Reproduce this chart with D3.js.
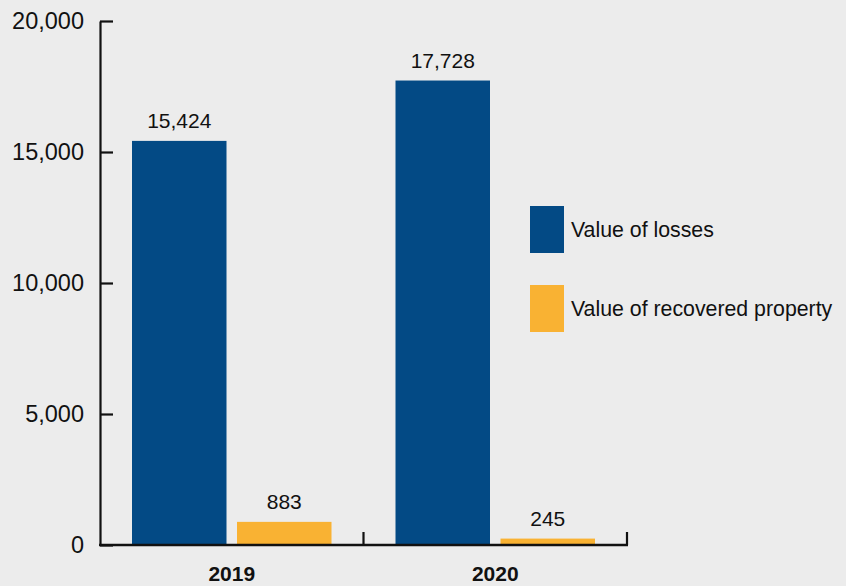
<!DOCTYPE html>
<html>
<head>
<meta charset="utf-8">
<script src="https://cdn.jsdelivr.net/npm/d3@7"></script>
<style>
  html, body { margin: 0; padding: 0; background: #ececec; }
  svg { display: block; font-family: "Liberation Sans", Arial, sans-serif; }
</style>
</head>
<body>
<svg id="chart" width="846" height="586"></svg>
<script>
// Years on the x axis
const years = ["2019", "2020"];
// Series names and values
const seriesNames = ["Value of losses", "Value of recovered property"];
const losses = [15424, 17728];
const recovered = [883, 245];
// Y axis ticks
const yTicks = [0, 5000, 10000, 15000, 20000];

const colors = ["#034a85", "#f9b233"];
const series = [losses, recovered];

const svg = d3.select("#chart");
const margin = { left: 100, right: 219, top: 21, bottom: 41 };
const W = 846, H = 586;

const x = d3.scaleBand().domain(years)
  .range([margin.left, W - margin.right]).paddingInner(0).paddingOuter(0);
const inner = d3.scaleBand().domain(d3.range(seriesNames.length))
  .range([32, x.bandwidth() - 32]).paddingInner(0.1).paddingOuter(0);
const y = d3.scaleLinear().domain([0, 20000]).range([H - margin.bottom, margin.top]);

const fmt = d3.format(",");

// Bars
const groups = svg.selectAll("g.year").data(years).join("g")
  .attr("class", "year")
  .attr("transform", d => `translate(${x(d)},0)`);

groups.selectAll("rect").data((d, i) => series.map((s, k) => ({ k, v: s[i] })))
  .join("rect")
  .attr("x", d => inner(d.k))
  .attr("width", inner.bandwidth())
  .attr("y", d => y(d.v))
  .attr("height", d => y(0) - y(d.v))
  .attr("fill", d => colors[d.k]);

groups.selectAll("text.val").data((d, i) => series.map((s, k) => ({ k, v: s[i] })))
  .join("text")
  .attr("class", "val")
  .attr("x", d => inner(d.k) + inner.bandwidth() / 2)
  .attr("y", d => y(d.v) - 13)
  .attr("text-anchor", "middle")
  .attr("font-size", 21)
  .attr("fill", "#111")
  .text(d => fmt(d.v));

// Y axis
const yAxis = d3.axisLeft(y).tickValues(yTicks).tickFormat(fmt)
  .tickSizeInner(-13).tickSizeOuter(0).tickPadding(16);
const gy = svg.append("g").attr("transform", `translate(${margin.left},0)`).call(yAxis);
gy.select(".domain").attr("stroke", "#111").attr("stroke-width", 2.2);
gy.selectAll(".tick line").attr("stroke", "#111").attr("stroke-width", 2.2);
gy.selectAll(".tick text").attr("font-size", 23.5).attr("fill", "#111")
  .attr("font-family", "Liberation Sans, Arial, sans-serif");

// X axis baseline with boundary ticks between years
const gx = svg.append("g").attr("transform", `translate(0,${y(0)})`);
gx.append("line")
  .attr("x1", margin.left - 1).attr("x2", W - margin.right + 1)
  .attr("stroke", "#111").attr("stroke-width", 2.4);
gx.selectAll("line.sep").data(years).join("line")
  .attr("class", "sep")
  .attr("x1", d => x(d) + x.bandwidth()).attr("x2", d => x(d) + x.bandwidth())
  .attr("y1", 0).attr("y2", -13)
  .attr("stroke", "#111").attr("stroke-width", 2.2);
gx.selectAll("text").data(years).join("text")
  .attr("x", d => x(d) + x.bandwidth() / 2)
  .attr("y", 36)
  .attr("text-anchor", "middle")
  .attr("font-size", 21)
  .attr("font-weight", "bold")
  .attr("fill", "#111")
  .text(d => d);

// Legend
const legend = svg.append("g").attr("transform", "translate(530,206)");
const li = legend.selectAll("g").data(seriesNames).join("g")
  .attr("transform", (d, i) => `translate(0,${i * 79})`);
li.append("rect").attr("width", 34).attr("height", 47)
  .attr("fill", (d, i) => colors[i]);
li.append("text").attr("x", 41).attr("y", 23.5).attr("dy", "0.35em")
  .attr("font-size", 21.3).attr("fill", "#111").text(d => d);
</script>
</body>
</html>
